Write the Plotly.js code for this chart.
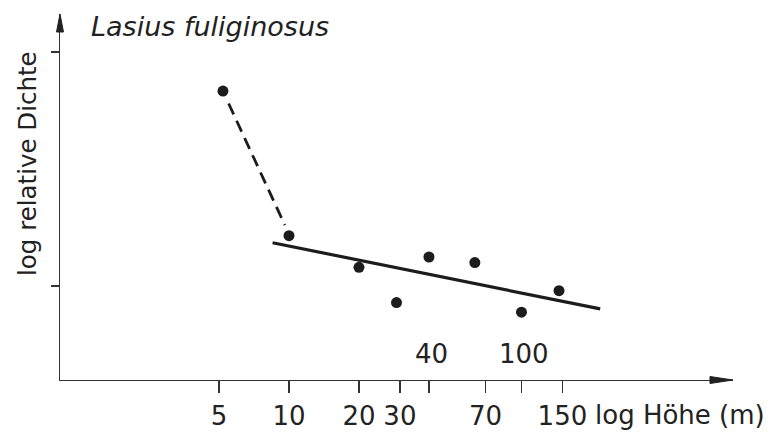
<!DOCTYPE html>
<html>
<head>
<meta charset="utf-8">
<script src="https://cdn.plot.ly/plotly-3.0.1.min.js"></script>
<style>html,body{margin:0;padding:0;background:#fff;}</style>
</head>
<body>
<div id="chart" style="width:769px;height:436px;"></div>
<script>
// Data (x: height in m on log scale, y: log relative density, arbitrary units)
const heights = [5.2, 10, 20, 29, 40, 63, 100, 145];
const logDensity = [0.833, 0.215, 0.080, -0.071, 0.124, 0.100, -0.112, -0.020];

// dashed connection from the lowest-height point
const dashX = [5.5, 9.6];
const dashY = [0.78, 0.26];

// fitted regression line
const fitX = [8.5, 218];
const fitY = [0.185, -0.098];

// axis ticks
const xTicks = [5, 10, 20, 30, 40, 70, 100, 150];
const xTickText = ['5', '10', '20', '30', '', '70', '', '150'];
const raisedTicks = [40, 100];
const raisedTickText = ['40', '100'];
const yTicks = [0, 1];

const ink = '#1c1c1c';
const font = 'DejaVu Sans, Liberation Sans, sans-serif';

const traces = [
  {x: dashX, y: dashY, mode: 'lines', line: {color: ink, width: 2.8, dash: '12px,7px'}, hoverinfo: 'skip'},
  {x: fitX, y: fitY, mode: 'lines', line: {color: ink, width: 3.2}, hoverinfo: 'skip'},
  {x: heights, y: logDensity, mode: 'markers', marker: {color: ink, size: 11}}
];

const annotations = [
  {text: 'log relative Dichte', textangle: -90, xref: 'paper', yref: 'paper', x: 0, y: (380-164)/366,
   xanchor: 'center', yanchor: 'middle', xshift: -33, showarrow: false, font: {family: font, size: 24.5, color: '#222'}},
  {text: 'log Höhe (m)', xref: 'paper', yref: 'paper', x: (593-60)/673, y: 0, xanchor: 'left', yanchor: 'middle',
   yshift: -35, showarrow: false, font: {family: font, size: 26, color: '#222'}}
];
raisedTicks.forEach((v, i) => {
  annotations.push({text: raisedTickText[i], xref: 'x', yref: 'paper', x: Math.log10(v), y: (380-354)/366,
    xanchor: 'center', yanchor: 'middle', xshift: 2.5, showarrow: false, font: {family: font, size: 26, color: '#222'}});
});

const layout = {
  width: 769, height: 436,
  margin: {l: 60, r: 36, t: 14, b: 56},
  paper_bgcolor: '#fff', plot_bgcolor: '#fff',
  showlegend: false,
  title: {text: 'Lasius fuliginosus', font: {family: font, size: 27, color: '#222', style: 'italic'},
          xref: 'container', x: 91/769, xanchor: 'left', yref: 'container', y: 1 - 27/436, yanchor: 'middle'},
  xaxis: {type: 'log', range: [0.0151, 2.9097], showline: true, linecolor: '#333', linewidth: 1.3,
          ticks: 'outside', ticklen: 12, tickwidth: 1.3, tickcolor: '#333',
          tickmode: 'array', tickvals: xTicks, ticktext: xTickText,
          tickfont: {family: font, size: 26, color: '#222'},
          showgrid: false, zeroline: false, fixedrange: true},
  yaxis: {range: [-0.4017, 1.1624], showline: true, linecolor: '#333', linewidth: 1.3,
          ticks: 'outside', ticklen: 8, tickwidth: 1.3, tickcolor: '#333',
          tickmode: 'array', tickvals: yTicks, ticktext: ['', ''],
          showgrid: false, zeroline: false, fixedrange: true},
  annotations: annotations,
  shapes: [
    {type: 'path', xref: 'paper', yref: 'paper', path: 'M1,0 L0.9658,0.00956 L0.9658,-0.00956 Z',
     fillcolor: '#222', line: {color: '#222', width: 1}},
    {type: 'path', xref: 'paper', yref: 'paper', path: 'M0,1 L0.0052,0.9508 L-0.0052,0.9508 Z',
     fillcolor: '#222', line: {color: '#222', width: 1}}
  ]
};

Plotly.newPlot('chart', traces, layout, {displayModeBar: false, staticPlot: true});
</script>
</body>
</html>
